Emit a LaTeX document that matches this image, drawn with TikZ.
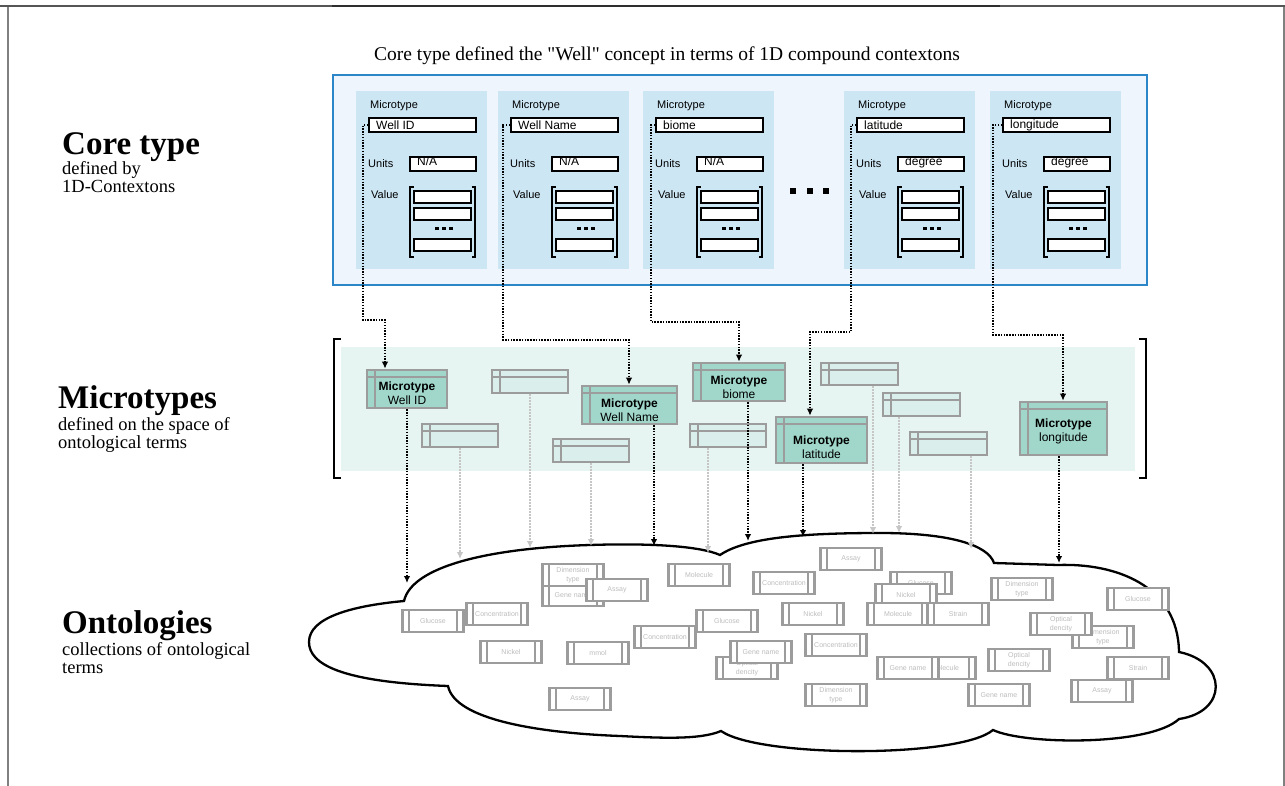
\documentclass[tikz,border=0pt]{standalone}
\usepackage{fontspec}
\setmainfont{Liberation Serif}
\setsansfont{Liberation Sans}
\newfontfamily\titlefont{Liberation Serif}[Ligatures=TeXOff]
\usetikzlibrary{arrows.meta,calc}
\definecolor{panelfill}{HTML}{EFF5FC}
\definecolor{panelblue}{HTML}{2B86C8}
\definecolor{colfill}{HTML}{CCE6F4}
\definecolor{mtfill}{HTML}{A0D7CA}
\definecolor{emfill}{HTML}{DAEFEB}
\definecolor{tealpanel}{HTML}{E7F5F2}
\definecolor{boxgray}{HTML}{9C9C9C}
\definecolor{termtxt}{HTML}{BDBDBD}
\definecolor{garrow}{HTML}{C6C6C6}
\definecolor{framegray}{HTML}{555555}
\definecolor{framedark}{HTML}{2E2E2E}
\definecolor{sidegray}{HTML}{808080}
\tikzset{
  conn/.style={black, line width=2.3pt, dash pattern=on 1.5pt off 1.3pt, -{Latex[length=7pt,width=6.5pt]}},
  gconn/.style={garrow, line width=1.8pt, dash pattern=on 1.5pt off 1.5pt, -{Latex[length=7pt,width=6.5pt]}},
  smalllbl/.style={font=\sffamily\fontsize{11}{13}\selectfont, inner sep=0pt},
  namelbl/.style={font=\sffamily\fontsize{12}{14}\selectfont, inner sep=0pt},
  blackbox/.style={draw=black, line width=2pt, fill=white, inner sep=0pt},
  mtbox/.style={draw=boxgray, line width=2.6pt, fill=mtfill, inner sep=0pt,
    path picture={
      \draw[boxgray, line width=2.4pt] ([yshift=-7pt]path picture bounding box.north west) -- ([yshift=-7pt]path picture bounding box.north east);
      \draw[boxgray, line width=2.4pt] ([xshift=8pt]path picture bounding box.north west) -- ([xshift=8pt]path picture bounding box.south west);}},
  embox/.style={mtbox, fill=emfill},
  mttext/.style={font=\sffamily\fontsize{12}{14}\selectfont, align=center, inner sep=0pt},
  termbox/.style={draw=boxgray, line width=2.2pt, fill=white, minimum width=61pt, minimum height=22pt,
    inner sep=1pt, align=center, text=termtxt, font=\sffamily\fontsize{7}{8.5}\selectfont,
    path picture={
      \draw[boxgray, line width=2pt] ([xshift=6.5pt]path picture bounding box.north west) -- ([xshift=6.5pt]path picture bounding box.south west);
      \draw[boxgray, line width=2pt] ([xshift=-6.5pt]path picture bounding box.north east) -- ([xshift=-6.5pt]path picture bounding box.south east);}},
  titlebig/.style={font=\bfseries\fontsize{33}{35}\selectfont, inner sep=0pt, anchor=base west},
  subtxt/.style={font=\fontsize{18.5}{20}\selectfont, inner sep=0pt, anchor=base west},
  cloudline/.style={draw=black, line width=2.3pt, fill=white}
}
\newcommand\ctxcol[4]{%
  \fill[colfill] (#1,91) rectangle ({#1+131},269);
  \node[smalllbl, anchor=west] (ml#4) at ({#1+14},106) {Microtype};
  \node[blackbox, minimum width=107pt, minimum height=14pt, anchor=north west] (nb#4) at ({#1+12},117) {};
  \node[namelbl, anchor=west] (nt#4) at ({#1+20},125.5) {#2};
  \node[smalllbl, anchor=west] (ul#4) at ({#1+12},163.5) {Units};
  \node[blackbox, minimum width=66pt, minimum height=14pt, anchor=north west] (ub#4) at ({#1+53},156) {};
  \node[namelbl, anchor=north west] (ut#4) at ({#1+61},157) {#3};
  \node[smalllbl, anchor=west] (vl#4) at ({#1+15},194.5) {Value};
  \draw[line width=2pt] ({#1+57.5},187) -- ({#1+54},187) -- ({#1+54},257) -- ({#1+57.5},257);
  \draw[line width=2pt] ({#1+115.5},187) -- ({#1+119},187) -- ({#1+119},257) -- ({#1+115.5},257);
  \node[blackbox, minimum width=57pt, minimum height=12pt, anchor=north west] (va#4) at ({#1+57},190) {};
  \node[blackbox, minimum width=57pt, minimum height=12pt, anchor=north west] (vb#4) at ({#1+57},207) {};
  \node[blackbox, minimum width=57pt, minimum height=12pt, anchor=north west] (vc#4) at ({#1+57},238) {};
  \fill ({#1+79},227.5) rectangle ++(4,3);
  \fill ({#1+86},227.5) rectangle ++(4,3);
  \fill ({#1+93},227.5) rectangle ++(4,3);
}
\newcommand\term[4]{\node[termbox] (#1) at (#2,#3) {#4};}
\begin{document}
\begin{tikzpicture}[x=1pt,y=-1pt]
\useasboundingbox (0,0) rectangle (1285,786);
\fill[white] (0,0) rectangle (1285,786);
% frame
\draw[sidegray, line width=1.6pt] (8,6) -- (8,786);
\draw[sidegray, line width=1.6pt] (1284,6) -- (1284,786);
\draw[framegray, line width=2pt] (0,6) -- (1285,6);
\draw[framedark, line width=2.6pt] (332,6) -- (1000,6);

% left titles
\node[titlebig] (ct) at (62,155) {Core type};
\node[subtxt] (ct1) at (62,175) {defined by};
\node[subtxt] (ct2) at (62,193) {1D-Contextons};
\node[titlebig] (mtt) at (58,408) {Microtypes};
\node[subtxt] (mtt1) at (58,430) {defined on the space of};
\node[subtxt] (mtt2) at (58,448) {ontological terms};
\node[titlebig] (ont) at (62,633) {Ontologies};
\node[subtxt] (ont1) at (62,655) {collections of ontological};
\node[subtxt] (ont2) at (62,673) {terms};

% top title
\node[font=\titlefont\fontsize{19.5}{22}\selectfont, inner sep=0pt] (title) at (667,56) {Core type defined the "Well" concept in terms of 1D compound contextons};

% core type panel
\draw[panelblue, line width=2pt, fill=panelfill] (333,75) rectangle (1147,285);
\ctxcol{356}{Well ID}{N/A}{1}
\ctxcol{498}{Well Name}{N/A}{2}
\ctxcol{643}{biome}{N/A}{3}
\ctxcol{844}{latitude}{degree}{4}
\ctxcol{990}{longitude}{degree}{5}
\fill (790,188) rectangle ++(6,6);
\fill (807,188) rectangle ++(6,6);
\fill (823,188) rectangle ++(6,6);

% microtype panel
\fill[tealpanel] (341,347) rectangle (1135,471);
\draw[line width=2pt] (341,339) -- (334,339) -- (334,478) -- (341,478);
\draw[line width=2pt] (1139,339) -- (1146,339) -- (1146,478) -- (1139,478);

\node[embox, minimum width=76pt, minimum height=23pt] (e1) at (530,381.5) {};
\node[embox, minimum width=76pt, minimum height=23pt] (e2) at (460,435.5) {};
\node[embox, minimum width=76pt, minimum height=23pt] (e3) at (591,450.5) {};
\node[embox, minimum width=76pt, minimum height=23pt] (e4) at (728,435.5) {};
\node[embox, minimum width=77pt, minimum height=22pt] (e5) at (859.5,374) {};
\node[embox, minimum width=77pt, minimum height=23pt] (e6) at (921.5,404.5) {};
\node[embox, minimum width=77pt, minimum height=23pt] (e7) at (948.5,443.5) {};

\node[mtbox, minimum width=80pt, minimum height=38pt] (mt1) at (407,389) {};
\node[mtbox, minimum width=95pt, minimum height=38pt] (mt2) at (629.5,405) {};
\node[mtbox, minimum width=92pt, minimum height=38pt] (mt3) at (739,382) {};
\node[mtbox, minimum width=91pt, minimum height=46pt] (mt4) at (821.5,440) {};
\node[mtbox, minimum width=87pt, minimum height=53pt] (mt5) at (1063.5,428.5) {};
\node[mttext] (mt1t) at (407,393) {\textbf{Microtype}\\Well ID};
\node[mttext] (mt2t) at (629.5,410) {\textbf{Microtype}\\Well Name};
\node[mttext] (mt3t) at (739,387.5) {\textbf{Microtype}\\biome};
\node[mttext] (mt4t) at (821.5,447) {\textbf{Microtype}\\latitude};
\node[mttext] (mt5t) at (1063.5,431) {\textbf{Microtype}\\longitude};

% connectors core type -> microtypes
\coordinate (p1a) at (363,320); \coordinate (p1b) at (385,320);
\coordinate (p2a) at (503,340); \coordinate (p2b) at (629,340);
\coordinate (p3a) at (651,322); \coordinate (p3b) at (739,322);
\coordinate (p4a) at (851,332); \coordinate (p4b) at (810,332);
\coordinate (p5a) at (993,335); \coordinate (p5b) at (1063,335);
\draw[conn] (nb1.west) -| (p1a) -- (p1b) -- (mt1.north -| p1b);
\draw[conn] (nb2.west) -| (p2a) -- (p2b) -- (mt2.north -| p2b);
\draw[conn] (nb3.west) -| (p3a) -- (p3b) -- (mt3.north -| p3b);
\draw[conn] (nb4.west) -| (p4a) -- (p4b) -- (mt4.north -| p4b);
\draw[conn] (nb5.west) -| (p5a) -- (p5b) -- (mt5.north -| p5b);

% cloud
\draw[cloudline] (404,601)
  .. controls (412,566) and (490,548) .. (590,545)
  .. controls (650,543) and (700,546) .. (720,555)
  .. controls (745,538) and (800,533) .. (880,533)
  .. controls (950,533) and (988,545) .. (994,563)
  -- (1058,565)
  .. controls (1115,563) and (1178,585) .. (1179,652)
  .. controls (1228,662) and (1228,712) .. (1179,719)
  .. controls (1150,746) and (1025,745) .. (993,730)
  .. controls (960,758) and (760,758) .. (721,731)
  .. controls (700,740) and (660,738) .. (620,736)
  .. controls (540,733) and (455,720) .. (448,686)
  .. controls (340,682) and (309,664) .. (309,642)
  .. controls (309,618) and (350,606) .. (404,601) -- cycle;

% connectors microtypes -> ontologies
\coordinate (k1) at (407,583);
\coordinate (k2) at (654,546);
\coordinate (k3) at (748,541);
\coordinate (k4) at (803,537);
\coordinate (k5) at (1059,563);
\coordinate (g1) at (530,548);
\coordinate (g2) at (460,559);
\coordinate (g3) at (591,546);
\coordinate (g4) at (708,553);
\coordinate (g5) at (873,534);
\coordinate (g6) at (899,533);
\coordinate (g7) at (971,549);
\draw[gconn] (e1.south -| g1) -- (g1);
\draw[gconn] (e2.south -| g2) -- (g2);
\draw[gconn] (e3.south -| g3) -- (g3);
\draw[gconn] (e4.south -| g4) -- (g4);
\draw[gconn] (e5.south -| g5) -- (g5);
\draw[gconn] (e6.south -| g6) -- (g6);
\draw[gconn] (e7.south -| g7) -- (g7);
\draw[conn] (mt1.south -| k1) -- (k1);
\draw[conn] (mt2.south -| k2) -- (k2);
\draw[conn] (mt3.south -| k3) -- (k3);
\draw[conn] (mt4.south -| k4) -- (k4);
\draw[conn] (mt5.south -| k5) -- (k5);

% ontology terms
\term{t2}{573}{595}{Gene name}
\term{t1}{573}{575}{Dimension\\type}
\term{t3}{617}{590}{Assay}
\term{t4}{433}{621}{Glucose}
\term{t5}{497}{614}{Concentration}
\term{t6}{511}{652}{Nickel}
\term{t7}{598}{653}{mmol}
\term{t8}{580}{699}{Assay}
\term{t9}{665}{637}{Concentration}
\term{t10}{699}{575}{Molecule}
\term{t11}{851}{559}{Assay}
\term{t12}{784}{583}{Concentration}
\term{t13}{921}{583}{Glucose}
\term{t14}{906}{595}{Nickel}
\term{t15}{898}{614}{Molecule}
\term{t16}{813}{614}{Nickel}
\term{t17}{727}{621}{Glucose}
\term{t18}{836}{645}{Concentration}
\term{t20}{747}{668}{Optical\\dencity}
\term{t19}{761}{652}{Gene name}
\term{t29}{945}{668}{Molecule}
\term{t21}{908}{668}{Gene name}
\term{t22}{836}{695}{Dimension\\type}
\term{t23}{958}{614}{Strain}
\term{t24}{1022}{589}{Dimension\\type}
\term{t27}{1103}{637}{Dimension\\type}
\term{t26}{1061}{624}{Optical\\dencity}
\term{t25}{1138}{599}{Glucose}
\term{t28}{1019}{660}{Optical\\dencity}
\term{t30}{999}{695}{Gene name}
\term{t31}{1138}{668}{Strain}
\term{t32}{1102}{691}{Assay}
\end{tikzpicture}
\end{document}
